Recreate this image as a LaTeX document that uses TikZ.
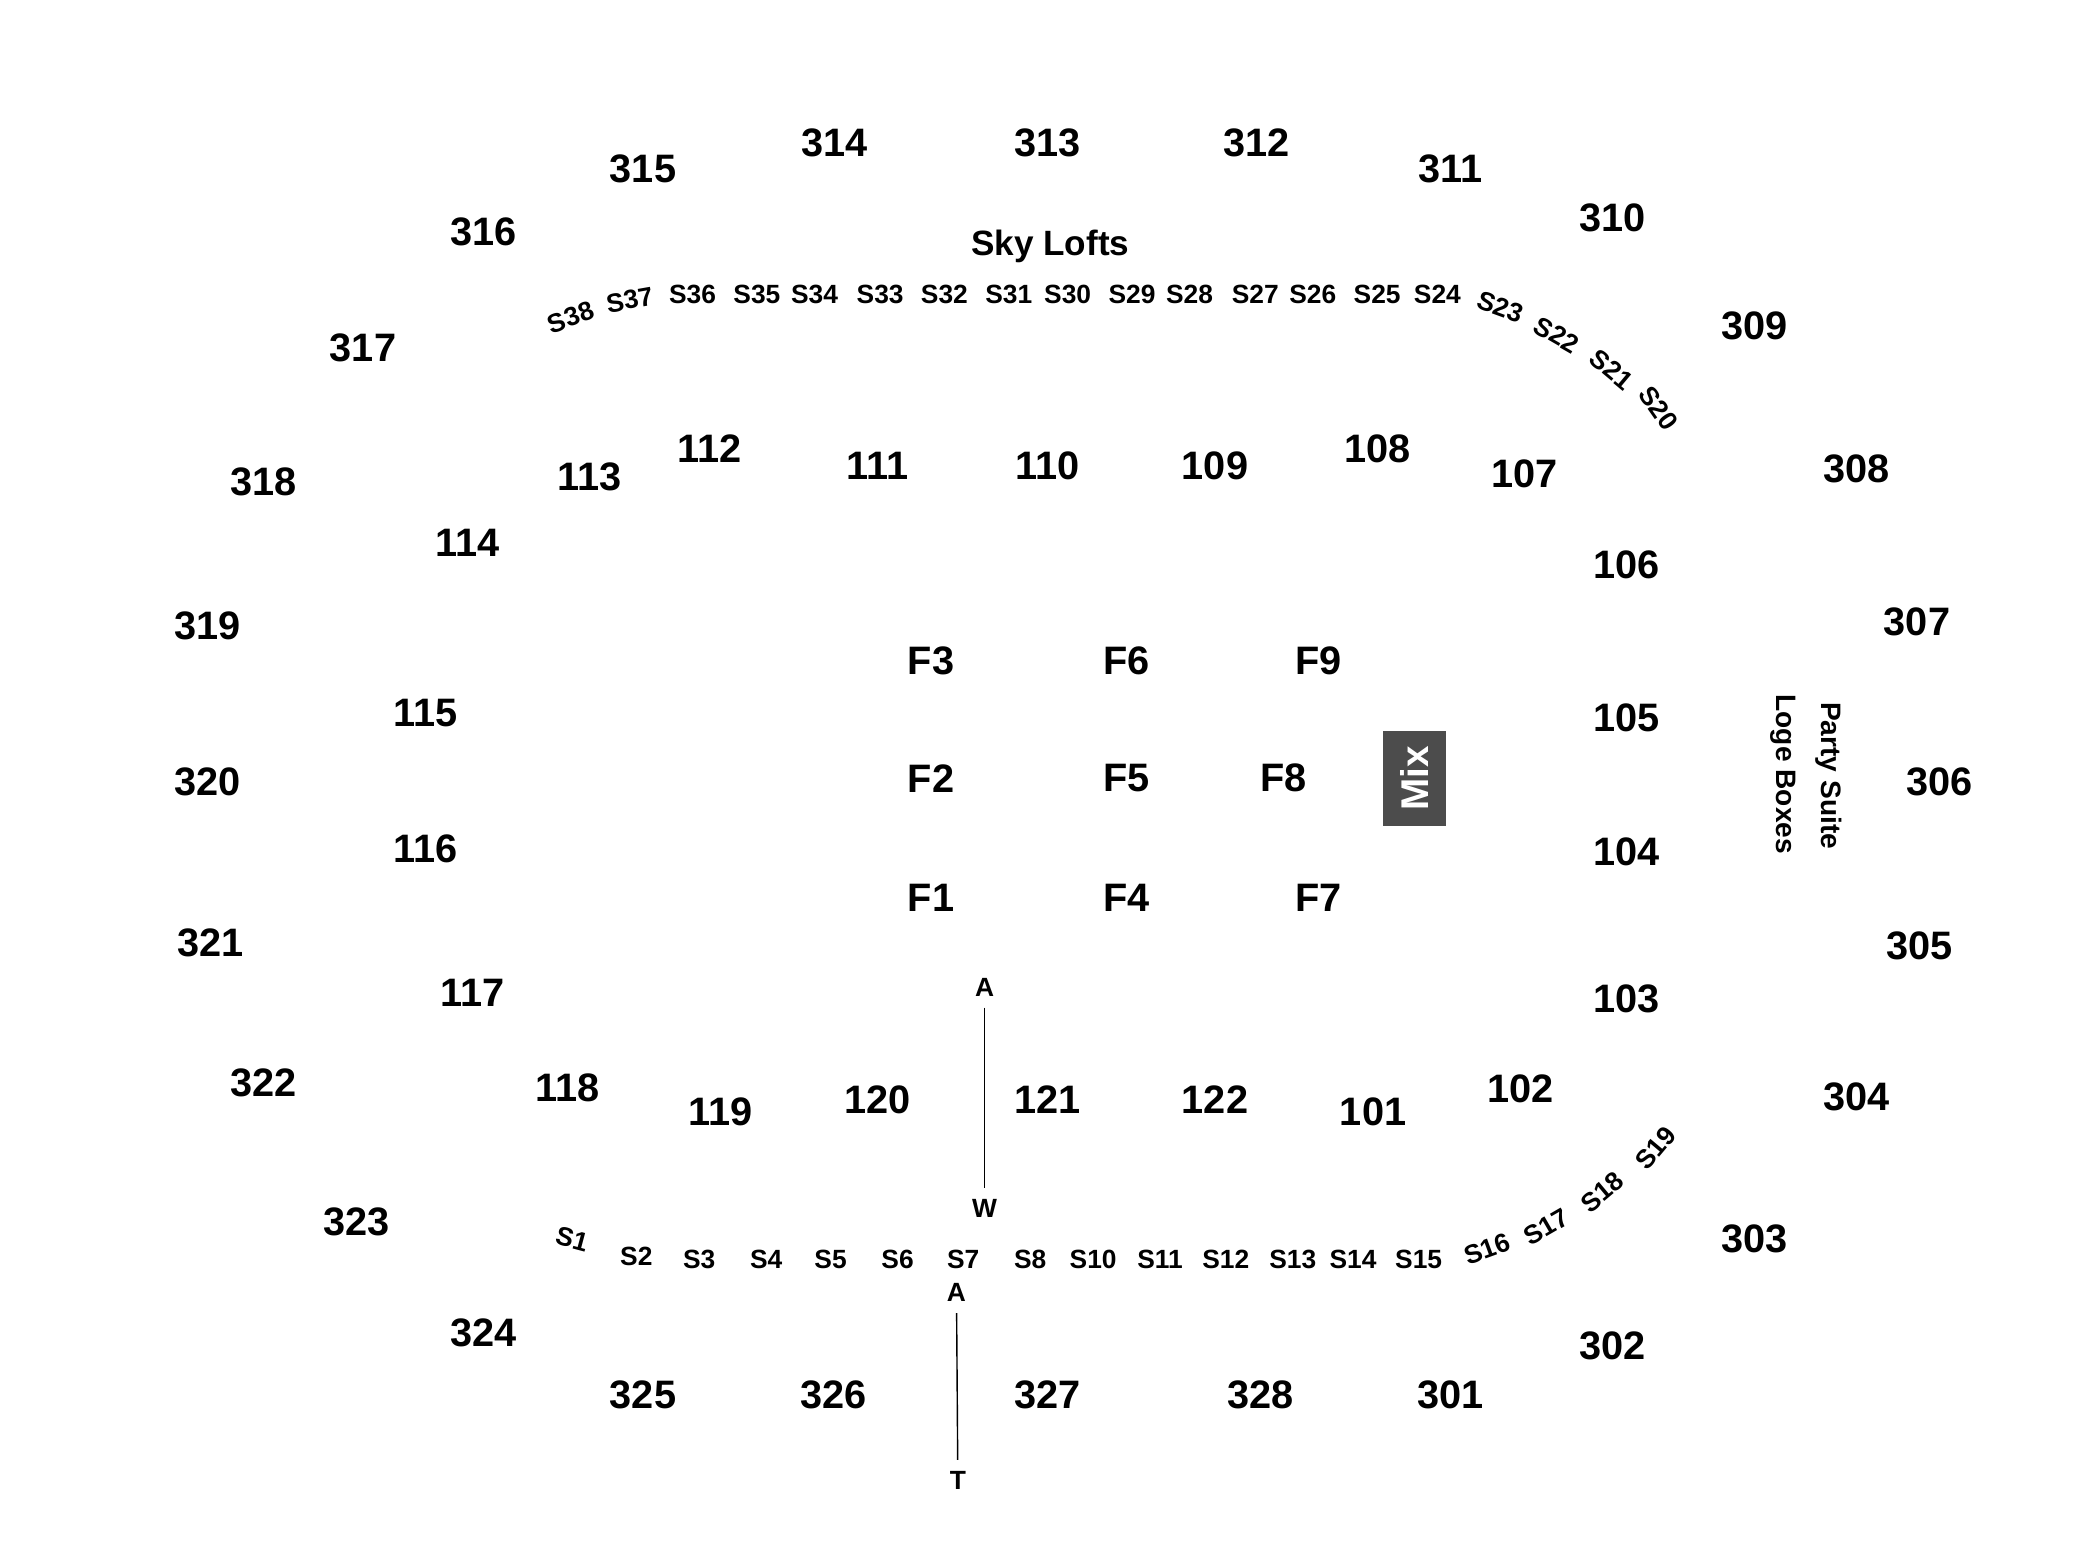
\documentclass[tikz,border=0pt]{standalone}
\usepackage{fontspec}
\setmainfont{Liberation Sans}
\usetikzlibrary{positioning}
\tikzset{sec/.style = {font=\bfseries\fontsize{11.3}{13}\selectfont, inner sep = 0}}
\tikzset{suite/.style = {font=\bfseries\fontsize{7.5}{9}\selectfont, inner sep = 0}}
\tikzset{lbl/.style = {font=\bfseries\fontsize{8}{10}\selectfont, inner sep = 0}}
\tikzset{mixbox/.style = {fill=mgray, text=white, font=\bfseries\fontsize{11}{13}\selectfont,
    rotate=90, minimum width=0.956cm, minimum height=0.633cm, inner sep=0}}
\definecolor{mgray}{rgb}{0.3, 0.3, 0.3}

\begin{document}
\begin{tikzpicture}[x=0.013396cm, y=-0.013396cm]
      \useasboundingbox (0, 0) rectangle (1567.6, 1167.5);

      % upper level
      \foreach \n/\x/\y in {314/623/107, 313/782/107, 312/938/107, 315/480/126, 311/1083/126,
          316/361/173, 310/1204/163, 317/271/260, 309/1310/243, 318/197/360, 308/1386/350,
          319/155/467, 307/1431/464, 320/155/584, 306/1448/584, 321/157/704, 305/1433/706,
          322/197/808, 304/1386/819, 323/266/912, 303/1310/925, 324/361/995, 302/1204/1005,
          325/480/1041, 326/622/1041, 327/782/1041, 328/941/1041, 301/1083/1041}
        \node [sec] (s\n) at (\x, \y) {\n};

      % lower level
      \foreach \n/\x/\y in {112/530/335, 111/655/348, 110/782/348, 109/907/348, 108/1028/335,
          113/440/356, 107/1138/354, 114/349/405, 106/1214/422, 115/318/532, 105/1214/536,
          116/318/634, 104/1214/636, 117/353/741, 103/1214/746, 118/424/812, 102/1135/813,
          119/538/830, 120/655/821, 121/782/821, 122/907/821, 101/1025/830}
        \node [sec] (s\n) at (\x, \y) {\n};

      % floor
      \foreach \n/\x/\y in {F3/695/493, F6/841/493, F9/984/493, F2/695/581, F5/841/581,
          F8/958/581, F1/695/670, F4/841/670, F7/984/670}
        \node [sec] (\n) at (\x, \y) {\n};

      \node [mixbox] (mix) at (1056, 581) {Mix};

      \node [lbl, rotate=-90] (loge) at (1331, 578) {Loge Boxes};
      \node [lbl, rotate=-90] (party) at (1365, 579) {Party Suite};

      \node [font=\bfseries\fontsize{10}{12}\selectfont, inner sep=0] (sky) at (784, 184) {Sky Lofts};

      % sky lofts, top
      \foreach \n/\x/\y/\r in {38/426/237/20, 37/470/224/10, 36/517/220/0, 35/565/220/0,
          34/608/220/0, 33/657/220/0, 32/705/220/0, 31/753/220/0, 30/797/220/0, 29/845/220/0,
          28/888/220/0, 27/937/220/0, 26/980/220/0, 25/1028/220/0, 24/1073/220/0,
          23/1120/229/-20, 22/1162/250/-30, 21/1203/276/-40, 20/1238/305/-55}
        \node [suite, rotate=\r] (S\n) at (\x, \y) {S\n};

      % sky lofts, bottom
      \foreach \n/\x/\y/\r in {1/427/925/-15, 2/475/938/0, 3/522/940/0, 4/572/940/0,
          5/620/940/0, 6/670/940/0, 7/719/940/0, 8/769/940/0, 10/816/940/0, 11/866/940/0,
          12/915/940/0, 13/965/940/0, 14/1010/940/0, 15/1059/940/0,
          16/1110/932/20, 17/1154/916/30, 18/1196/890/40, 19/1236/857/50}
        \node [suite, rotate=\r] (S\n) at (\x, \y) {S\n};

      % tunnels
      \node [suite] (aw) at (735, 737) {A};
      \node [suite] (w) at (735, 902) {W};
      \node [suite] (at) at (714, 965) {A};
      \node [suite] (t) at (715, 1105) {T};

      \draw [thin, shorten <= 3pt, shorten >= 3pt] (aw) -- (w);
      \draw [thin, shorten <= 3pt, shorten >= 3pt] (at) -- (t);
\end{tikzpicture}
\end{document}
